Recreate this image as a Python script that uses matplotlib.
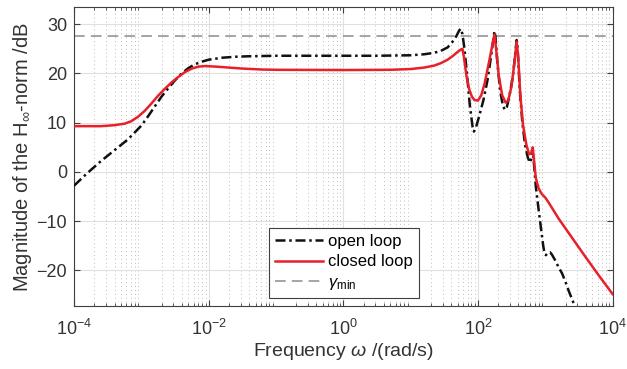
import numpy as np
import matplotlib
matplotlib.use("Agg")
import matplotlib.pyplot as plt
from matplotlib.ticker import LogLocator, NullFormatter

plt.rcParams["font.family"] = ["Liberation Sans", "DejaVu Sans"]
plt.rcParams["mathtext.fontset"] = "custom"
plt.rcParams["mathtext.rm"] = "Liberation Sans"
plt.rcParams["mathtext.it"] = "Liberation Sans:italic"

# open loop: log10(frequency) and magnitude in dB
open_logw = [-4.00, -3.80, -3.60, -3.40, -3.20, -3.00, -2.90, -2.80, -2.70, -2.60,
             -2.50, -2.40, -2.30, -2.20, -2.10, -2.00, -1.80, -1.60, -1.40, -1.00,
             0.00, 0.50, 1.00, 1.20, 1.35, 1.45, 1.55, 1.62, 1.68, 1.72,
             1.745, 1.77, 1.80, 1.84, 1.88, 1.92, 1.94, 1.97, 2.02, 2.08,
             2.14, 2.19, 2.23, 2.245, 2.26, 2.29, 2.33, 2.37, 2.40, 2.43,
             2.47, 2.52, 2.55, 2.575, 2.59, 2.62, 2.66, 2.70, 2.74, 2.77,
             2.79, 2.81, 2.83, 2.86, 2.90, 2.94, 2.97, 2.99, 3.01, 3.04,
             3.07, 3.10, 3.15, 3.20, 3.25, 3.30, 3.35, 3.42, 3.50]
open_db = [-2.8, -0.2, 2.2, 4.4, 6.6, 9.4, 11.3, 13.3, 15.3, 17.0,
           18.6, 20.0, 21.1, 21.9, 22.4, 22.8, 23.2, 23.4, 23.5, 23.6,
           23.6, 23.6, 23.7, 23.9, 24.2, 24.6, 25.3, 26.4, 27.6, 28.7,
           29.1, 28.0, 25.0, 19.5, 13.5, 9.2, 8.2, 9.0, 11.4, 14.5,
           18.5, 23.0, 27.0, 28.6, 27.5, 22.0, 16.5, 13.5, 12.6, 13.2,
           15.6, 19.5, 23.5, 26.8, 25.0, 17.0, 10.0, 5.5, 3.0, 1.9,
           2.5, 4.8, 2.0, -3.0, -7.5, -11.8, -15.0, -16.6, -16.9, -16.4,
           -16.3, -16.8, -18.0, -19.4, -20.6, -22.3, -24.2, -26.6, -29.0]

# closed loop
closed_logw = [-4.00, -3.60, -3.40, -3.25, -3.15, -3.05, -2.95, -2.85, -2.75, -2.65,
               -2.55, -2.45, -2.35, -2.25, -2.15, -2.05, -1.90, -1.70, -1.50, -1.20,
               -1.00, 0.00, 0.70, 1.00, 1.20, 1.35, 1.45, 1.55, 1.63, 1.70,
               1.75, 1.77, 1.79, 1.83, 1.87, 1.91, 1.95, 2.00, 2.05, 2.10,
               2.16, 2.21, 2.245, 2.27, 2.31, 2.36, 2.41, 2.45, 2.50, 2.54,
               2.575, 2.60, 2.63, 2.67, 2.72, 2.76, 2.79, 2.815, 2.835, 2.86,
               2.90, 2.95, 3.00, 3.05, 3.20, 3.40, 3.60, 3.80, 4.00]
closed_db = [9.3, 9.3, 9.5, 9.8, 10.3, 11.2, 12.4, 13.9, 15.5, 16.9,
             18.2, 19.3, 20.3, 21.0, 21.4, 21.5, 21.4, 21.2, 21.0, 20.8,
             20.75, 20.7, 20.75, 20.9, 21.2, 21.6, 22.1, 22.8, 23.6, 24.4,
             24.9, 25.0, 23.5, 19.5, 16.8, 15.3, 14.6, 14.5, 15.6, 18.0,
             22.0, 25.5, 27.9, 25.0, 19.5, 15.6, 14.1, 14.5, 17.5, 22.0,
             26.5, 23.0, 15.5, 9.5, 5.5, 3.6, 3.8, 5.0, 2.0, -1.2,
             -3.3, -4.5, -5.2, -6.2, -9.5, -13.4, -17.3, -21.1, -24.8]

gamma_min = 27.6
yticks = [-20, -10, 0, 10, 20, 30]
xticks = [1e-4, 1e-2, 1e0, 1e2, 1e4]

fig = plt.figure(figsize=(6.27, 3.69), dpi=100)
ax = fig.add_axes([0.118, 0.171, 0.859, 0.810])

ax.semilogx(10.0 ** np.array(open_logw), open_db, color="#111111", lw=1.8,
            ls=(0, (4, 1.5, 1, 1.5)), label="open loop", zorder=3)
ax.semilogx(10.0 ** np.array(closed_logw), closed_db, color="#e8202a", lw=1.8,
            label="closed loop", zorder=4)
ax.axhline(gamma_min, color="#8c8c8c", lw=1.1, ls=(0, (7, 4)),
           label=r"$\gamma_{\rm min}$", zorder=2)

ax.set_xlim(1e-4, 1e4)
ax.set_ylim(-27.2, 33.5)
ax.set_yticks(yticks)
ax.xaxis.set_minor_locator(LogLocator(base=10, subs=np.arange(2, 10), numticks=100))
ax.xaxis.set_minor_formatter(NullFormatter())
ax.set_xticks(xticks)

ax.grid(True, which="major", color="#e0e0e0", lw=0.8, ls="-")
ax.grid(True, which="minor", axis="x", color="#bdbdbd", lw=0.7, ls=(0, (1, 3)))
ax.set_axisbelow(True)

for s in ax.spines.values():
    s.set_color("#404040")
    s.set_linewidth(0.8)
ax.tick_params(which="both", direction="in", top=True, right=True,
               colors="#404040", labelcolor="#333333", labelsize=13)
ax.tick_params(which="major", length=4)
ax.tick_params(axis="x", which="major", pad=9)
ax.tick_params(axis="y", which="major", pad=5)
ax.tick_params(which="minor", length=2.5)

ax.set_xlabel(r"Frequency $\omega$ /(rad/s)", fontsize=14, color="#333333", labelpad=2)
ax.set_ylabel(r"Magnitude of the H$_\infty$-norm /dB", fontsize=14.5, color="#333333", labelpad=2)

leg = ax.legend(loc="lower left", bbox_to_anchor=(0.362, 0.026), fontsize=12,
                fancybox=False, edgecolor="#404040", framealpha=1,
                handlelength=2.9, handletextpad=0.3, borderpad=0.35,
                labelspacing=0.35, borderaxespad=0)
leg.get_frame().set_linewidth(0.8)

fig.savefig("out.png", dpi=100)
